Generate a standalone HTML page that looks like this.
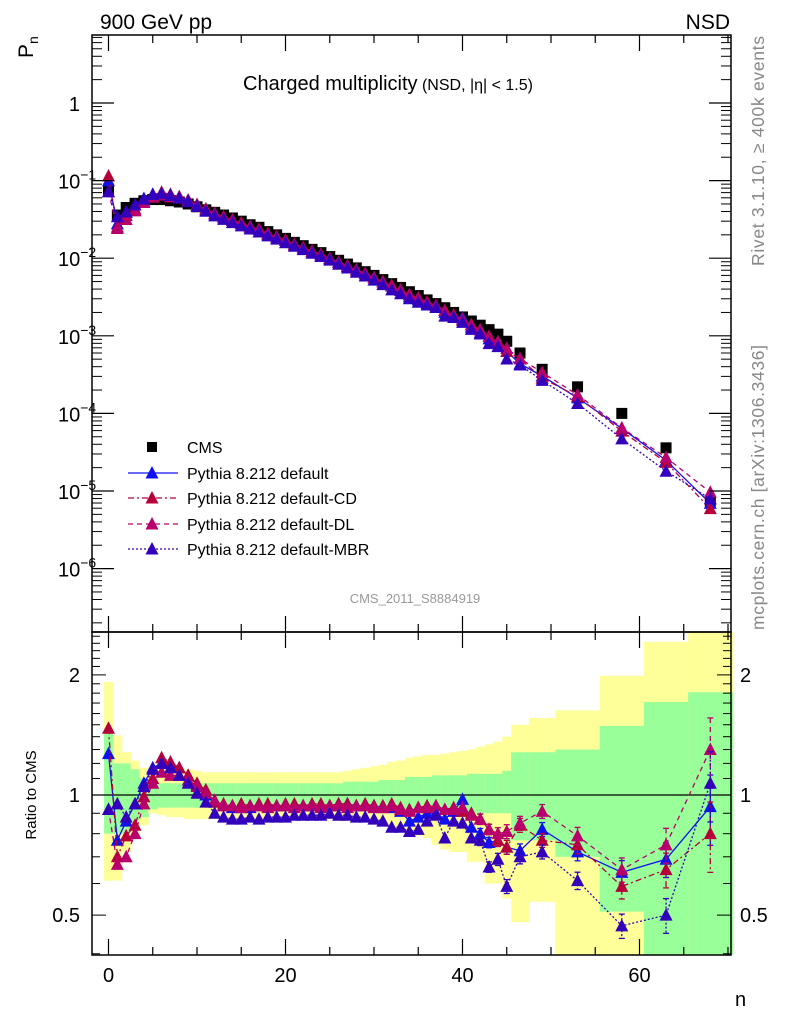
<!DOCTYPE html>
<html><head><meta charset="utf-8"><style>
html,body{margin:0;padding:0;background:#fff;}
svg{display:block;font-family:"Liberation Sans",sans-serif;}
</style></head><body>
<svg id="chart" width="786" height="1024" viewBox="0 0 786 1024" xmlns="http://www.w3.org/2000/svg">
<g id="bands"></g>
<g id="grid"></g>
<g id="series"></g>
<g id="axes"></g>
<text x="100" y="29" font-size="21">900 GeV pp</text>
<text x="730" y="29" font-size="21" text-anchor="end">NSD</text>
<text transform="translate(33,58) rotate(-90)" font-size="21">P<tspan font-size="14" dy="5">n</tspan></text>
<text x="243" y="90" font-size="20">Charged multiplicity<tspan font-size="16"> (NSD, |η| &lt; 1.5)</tspan></text>
<text transform="translate(764,266) rotate(-90)" font-size="17.5" textLength="230" fill="#888">Rivet 3.1.10, ≥ 400k events</text>
<text transform="translate(764,630) rotate(-90)" font-size="17.5" textLength="285" fill="#888">mcplots.cern.ch [arXiv:1306.3436]</text>
<text x="415" y="603" font-size="13" fill="#999" text-anchor="middle">CMS_2011_S8884919</text>
<text transform="translate(36,795) rotate(-90)" font-size="15" text-anchor="middle">Ratio to CMS</text>
<text x="735" y="1006" font-size="20">n</text>
<g id="legend"></g>
</svg>
<script>
const bins = [0,1,2,3,4,5,6,7,8,9,10,11,12,13,14,15,16,17,18,19,20,21,22,23,24,25,26,27,28,29,30,31,32,33,34,35,36,37,38,39,40,41,42,43,44,45,46.5,49,53,58,63,68];
const edges = [-0.5,0.5,1.5,2.5,3.5,4.5,5.5,6.5,7.5,8.5,9.5,10.5,11.5,12.5,13.5,14.5,15.5,16.5,17.5,18.5,19.5,20.5,21.5,22.5,23.5,24.5,25.5,26.5,27.5,28.5,29.5,30.5,31.5,32.5,33.5,34.5,35.5,36.5,37.5,38.5,39.5,40.5,41.5,42.5,43.5,44.5,45.5,47.5,50.5,55.5,60.5,65.5,70.5];
const cms = [0.078,0.036,0.045,0.051,0.055,0.057,0.057,0.055,0.053,0.050,0.046,0.042,0.039,0.036,0.033,0.030,0.027,0.025,0.022,0.020,0.018,0.016,0.0145,0.013,0.0118,0.0105,0.0094,0.0084,0.0075,0.0067,0.0060,0.0053,0.0047,0.0042,0.0037,0.0033,0.0029,0.0026,0.0023,0.0020,0.00175,0.00155,0.00137,0.0012,0.00105,0.00085,0.0006,0.00037,0.00022,0.0001,0.000036,0.0000074];
const yelHi = [1.92,1.41,1.28,1.22,1.17,1.16,1.16,1.16,1.16,1.16,1.15,1.14,1.14,1.14,1.14,1.14,1.14,1.14,1.14,1.14,1.14,1.14,1.14,1.14,1.14,1.14,1.14,1.15,1.16,1.17,1.18,1.19,1.21,1.22,1.24,1.25,1.26,1.26,1.27,1.28,1.29,1.30,1.32,1.34,1.36,1.40,1.50,1.56,1.63,1.99,2.42,3.0];
const yelLo = [0.61,0.61,0.72,0.78,0.84,0.90,0.89,0.88,0.88,0.87,0.87,0.87,0.87,0.87,0.87,0.87,0.87,0.87,0.87,0.87,0.87,0.87,0.87,0.87,0.87,0.87,0.86,0.86,0.86,0.86,0.85,0.84,0.83,0.81,0.80,0.79,0.78,0.75,0.73,0.72,0.72,0.68,0.68,0.60,0.60,0.55,0.48,0.54,0.3,0.3,0.3,0.3];
const grnHi = [1.45,1.20,1.20,1.16,1.10,1.08,1.07,1.07,1.07,1.07,1.07,1.07,1.07,1.07,1.07,1.07,1.07,1.07,1.07,1.07,1.07,1.07,1.07,1.07,1.07,1.07,1.07,1.08,1.08,1.08,1.08,1.09,1.09,1.09,1.11,1.11,1.11,1.12,1.12,1.12,1.12,1.13,1.13,1.13,1.13,1.15,1.28,1.28,1.30,1.49,1.71,1.81];
const grnLo = [0.80,0.80,0.80,0.86,0.88,0.92,0.93,0.93,0.93,0.93,0.93,0.93,0.93,0.93,0.93,0.93,0.93,0.93,0.93,0.93,0.93,0.93,0.93,0.93,0.93,0.93,0.93,0.93,0.93,0.93,0.93,0.92,0.92,0.92,0.92,0.92,0.91,0.91,0.91,0.91,0.91,0.90,0.90,0.90,0.90,0.90,0.77,0.77,0.70,0.51,0.3,0.3];
const ratioDefault = [1.27,0.77,0.86,0.95,1.07,1.17,1.20,1.20,1.17,1.12,1.06,1.00,0.96,0.94,0.93,0.93,0.93,0.94,0.94,0.94,0.94,0.94,0.94,0.94,0.94,0.94,0.95,0.95,0.94,0.94,0.94,0.93,0.93,0.91,0.86,0.88,0.90,0.90,0.87,0.91,0.975,0.83,0.80,0.76,0.77,0.74,0.725,0.82,0.72,0.64,0.69,0.935];
const ratioCD = [1.47,0.70,0.79,0.84,0.99,1.10,1.24,1.21,1.17,1.12,1.07,1.03,0.96,0.95,0.94,0.95,0.94,0.95,0.95,0.94,0.95,0.95,0.94,0.95,0.95,0.94,0.95,0.95,0.94,0.95,0.94,0.94,0.95,0.93,0.92,0.93,0.94,0.94,0.92,0.93,0.91,0.90,0.87,0.82,0.77,0.74,0.84,0.77,0.75,0.59,0.65,0.80];
const ratioDL = [0.92,0.67,0.70,0.80,0.95,1.07,1.14,1.12,1.12,1.09,1.05,1.01,0.97,0.94,0.94,0.93,0.94,0.94,0.93,0.94,0.94,0.93,0.94,0.94,0.93,0.94,0.94,0.93,0.94,0.94,0.93,0.93,0.94,0.92,0.91,0.93,0.93,0.94,0.92,0.92,0.93,0.89,0.87,0.82,0.80,0.81,0.85,0.91,0.79,0.65,0.75,1.30];
const ratioMBR = [0.92,0.95,0.88,0.95,1.05,1.16,1.20,1.17,1.12,1.07,1.01,0.96,0.90,0.88,0.87,0.87,0.88,0.87,0.88,0.88,0.88,0.89,0.89,0.89,0.89,0.90,0.89,0.89,0.88,0.88,0.87,0.86,0.83,0.83,0.81,0.82,0.86,0.89,0.78,0.86,0.85,0.78,0.77,0.66,0.69,0.59,0.70,0.72,0.61,0.47,0.50,1.07];
const mcErr = [0.02,0.01,0.01,0.01,0.01,0.01,0.01,0.01,0.01,0.01,0.01,0.01,0.01,0.01,0.01,0.01,0.01,0.01,0.01,0.01,0.01,0.01,0.01,0.01,0.01,0.01,0.01,0.01,0.01,0.01,0.01,0.01,0.01,0.01,0.015,0.015,0.015,0.02,0.02,0.02,0.025,0.025,0.03,0.03,0.035,0.04,0.04,0.04,0.05,0.07,0.1,0.2];
const xTicks = [0,20,40,60];
const mainTickExps = [-6,-5,-4,-3,-2,-1,0];
const ratioTickLabels = [0.5,1,2];

const NS="http://www.w3.org/2000/svg";
const L=92,R=731,MT=35,MB=632,RT=632,RB=955;
const X=n=>108.5+n*8.85;
const Y=v=>103-Math.log10(v)*77.6;
const RY=r=>Math.max(RT,Math.min(RB,795-Math.log10(r)*399));
function mk(tag,attrs,parent){const e=document.createElementNS(NS,tag);for(const k in attrs)e.setAttribute(k,attrs[k]);parent.appendChild(e);return e;}
const gB=document.getElementById('bands'),gS=document.getElementById('series'),gA=document.getElementById('axes'),gL=document.getElementById('legend');

bins.forEach((b,i)=>{
  const x0=X(edges[i]),x1=X(edges[i+1]);
  let e=mk('rect',{x:x0,y:RY(yelHi[i]),width:x1-x0+0.5,height:RY(yelLo[i])-RY(yelHi[i]),fill:'#ffff99'},gB);
  
  
  e=mk('rect',{x:x0,y:RY(grnHi[i]),width:x1-x0+0.5,height:RY(grnLo[i])-RY(grnHi[i]),fill:'#99ff99'},gB);
  
  
});
let ref=mk('line',{x1:L,x2:R,y1:RY(1),y2:RY(1),stroke:'#000','stroke-width':1.2},gB);



cms.forEach((v,i)=>{
  const e=mk('rect',{x:X(bins[i])-5.5,y:Y(v)-5.5,width:11,height:11,fill:'#000'},gS);
  
  
});

const series=[
 {name:'default',r:ratioDefault,c:'#1111ee',dash:''},
 {name:'default-cd',r:ratioCD,c:'#b5003c',dash:'6,3,2,3'},
 {name:'default-dl',r:ratioDL,c:'#b8006c',dash:'5,4'},
 {name:'default-mbr',r:ratioMBR,c:'#3300bb',dash:'2,2'}
];
function tri(x,y,c,g){const e=mk('polygon',{points:`${x-6.5},${y+5.5} ${x+6.5},${y+5.5} ${x},${y-7}`,fill:c},g);return e;}
series.forEach(s=>{
  const g=mk('g',{},gS);
  
  
  const mp=bins.map((b,i)=>X(b)+','+Y(cms[i]*s.r[i])).join(' ');
  const rp=bins.map((b,i)=>X(b)+','+RY(s.r[i])).join(' ');
  mk('polyline',{points:mp,fill:'none',stroke:s.c,'stroke-width':1.3,'stroke-dasharray':s.dash},g);
  mk('polyline',{points:rp,fill:'none',stroke:s.c,'stroke-width':1.3,'stroke-dasharray':s.dash},g);
  bins.forEach((b,i)=>{
    const r=s.r[i],er=mcErr[i];
    if(er>=0.03){
      mk('line',{x1:X(b),x2:X(b),y1:RY(r*(1+er)),y2:RY(r*(1-er)),stroke:s.c,'stroke-width':1.3,'stroke-dasharray':s.dash},g);
      mk('line',{x1:X(b)-3,x2:X(b)+3,y1:RY(r*(1+er)),y2:RY(r*(1+er)),stroke:s.c,'stroke-width':1.3},g);
      mk('line',{x1:X(b)-3,x2:X(b)+3,y1:RY(r*(1-er)),y2:RY(r*(1-er)),stroke:s.c,'stroke-width':1.3},g);
    }
    let t=tri(X(b),Y(cms[i]*r),s.c,g);
    
    
    t=tri(X(b),RY(r),s.c,g);
    
    
  });
});

let f=mk('rect',{x:L,y:MT,width:R-L,height:MB-MT,fill:'none',stroke:'#000','stroke-width':1.5},gA);


f=mk('rect',{x:L,y:RT,width:R-L,height:RB-RT,fill:'none',stroke:'#000','stroke-width':1.5},gA);


for(let n=0;n<=70;n+=5){
  const len=(n%20===0)?16:8, x=X(n);
  [[MT,1],[MB,-1],[RT,1],[RB,-1]].forEach(([y0,d])=>mk('line',{x1:x,x2:x,y1:y0,y2:y0+d*len,stroke:'#000','stroke-width':1.2},gA));
}
xTicks.forEach(n=>{
  const t=mk('text',{x:X(n),y:982,'font-size':20,'text-anchor':'middle'},gA);t.textContent=n;
  
  
});
mainTickExps.forEach(e=>{
  const y=Y(Math.pow(10,e));
  mk('line',{x1:L,x2:L+22,y1:y,y2:y,stroke:'#000','stroke-width':1.2},gA);
  mk('line',{x1:R,x2:R-22,y1:y,y2:y,stroke:'#000','stroke-width':1.2},gA);
  for(let m=2;m<=9;m++){const yy=Y(m*Math.pow(10,e));if(yy<MT)continue;
    mk('line',{x1:L,x2:L+10,y1:yy,y2:yy,stroke:'#000'},gA);mk('line',{x1:R,x2:R-10,y1:yy,y2:yy,stroke:'#000'},gA);}
  const t=mk('text',{x:e===0?80:58,y:y+8,'font-size':20,'text-anchor':e===0?'end':'start'},gA);
  
  
  if(e===0)t.textContent='1';
  else{t.textContent='10';const s=mk('tspan',{dy:-9,'font-size':14},t);s.textContent='−'+(-e);}
});
for(let m=2;m<=9;m++){const yy=Y(m*1e-7);if(yy<MB){mk('line',{x1:L,x2:L+10,y1:yy,y2:yy,stroke:'#000'},gA);mk('line',{x1:R,x2:R-10,y1:yy,y2:yy,stroke:'#000'},gA);}}
for(let k=4;k<=25;k++){const r=k/10,y=RY(r);if(y<=RT||y>=RB)continue;
  const len=(k===5||k===10||k===20)?14:8;
  mk('line',{x1:L,x2:L+len,y1:y,y2:y,stroke:'#000'},gA);mk('line',{x1:R,x2:R-len,y1:y,y2:y,stroke:'#000'},gA);}
ratioTickLabels.forEach(r=>{
  const t1=mk('text',{x:80,y:RY(r)+7,'font-size':20,'text-anchor':'end'},gA);t1.textContent=r;
  
  
  const t2=mk('text',{x:740,y:RY(r)+7,'font-size':20},gA);t2.textContent=r;
  
  
});

const legLabels=['CMS','Pythia 8.212 default','Pythia 8.212 default-CD','Pythia 8.212 default-DL','Pythia 8.212 default-MBR'];
const legY=[447,473,498,524,549];
legLabels.forEach((lab,i)=>{
  const g=mk('g',{},gL);
  
  
  const y=legY[i];
  if(i===0) mk('rect',{x:147,y:y-5,width:10,height:10,fill:'#000'},g);
  else{const s=series[i-1];
    mk('line',{x1:128,x2:178,y1:y,y2:y,stroke:s.c,'stroke-width':1.3,'stroke-dasharray':s.dash},g);
    tri(152,y,s.c,g);}
  const t=mk('text',{x:187,y:y+6,'font-size':16},g);t.textContent=lab;
});
</script>
</body></html>
